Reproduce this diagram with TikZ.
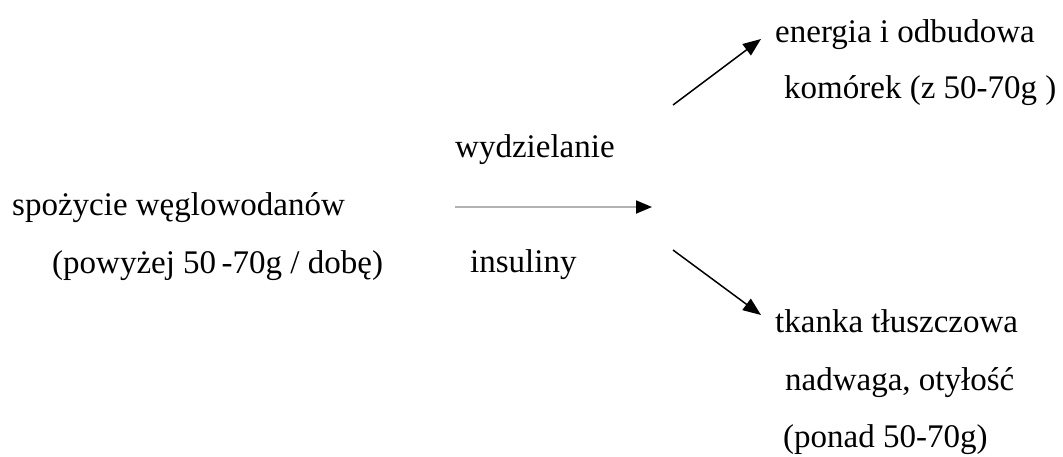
\documentclass[tikz,border=0pt]{standalone}
\usepackage{fontspec}
\setmainfont{Liberation Serif}
\usetikzlibrary{arrows.meta}
\begin{document}
\begin{tikzpicture}[x=1pt,y=-1pt,
  lbl/.style={anchor=base west,inner sep=0pt,font=\fontsize{33}{40}\selectfont},
  arr/.style={line width=1.5pt,-{Triangle[length=18pt,width=14pt]}},
  grayarr/.style={line width=1.8pt,draw=gray!60,-{Triangle[length=16pt,width=13pt,color=black]}}]
\useasboundingbox[fill=white] (0,0) rectangle (1063,456);
\node[lbl] (src1) at (12,215) {spożycie węglowodanów};
\node[lbl] (src2) at (52,273) {(powyżej 50\,-70g / dobę)};
\node[lbl] (mid1) at (455,157) {wydzielanie};
\node[lbl] (mid2) at (470,272) {insuliny};
\node[lbl] (up1) at (775,42) {energia i odbudowa};
\node[lbl] (up2) at (784,98) {komórek (z 50-70g )};
\node[lbl] (dn1) at (775,332) {tkanka tłuszczowa};
\node[lbl] (dn2) at (785,390) {nadwaga, otyłość};
\node[lbl] (dn3) at (783,447) {(ponad 50-70g)};
\coordinate (hs) at (455,207);
\coordinate (he) at (652,207);
\coordinate (us) at (673,105);
\coordinate (ue) at (761,39);
\coordinate (ds) at (673,250);
\coordinate (de) at (761,315);
\draw[grayarr] (hs) -- (he);
\draw[arr] (us) -- (ue);
\draw[arr] (ds) -- (de);
\end{tikzpicture}
\end{document}
